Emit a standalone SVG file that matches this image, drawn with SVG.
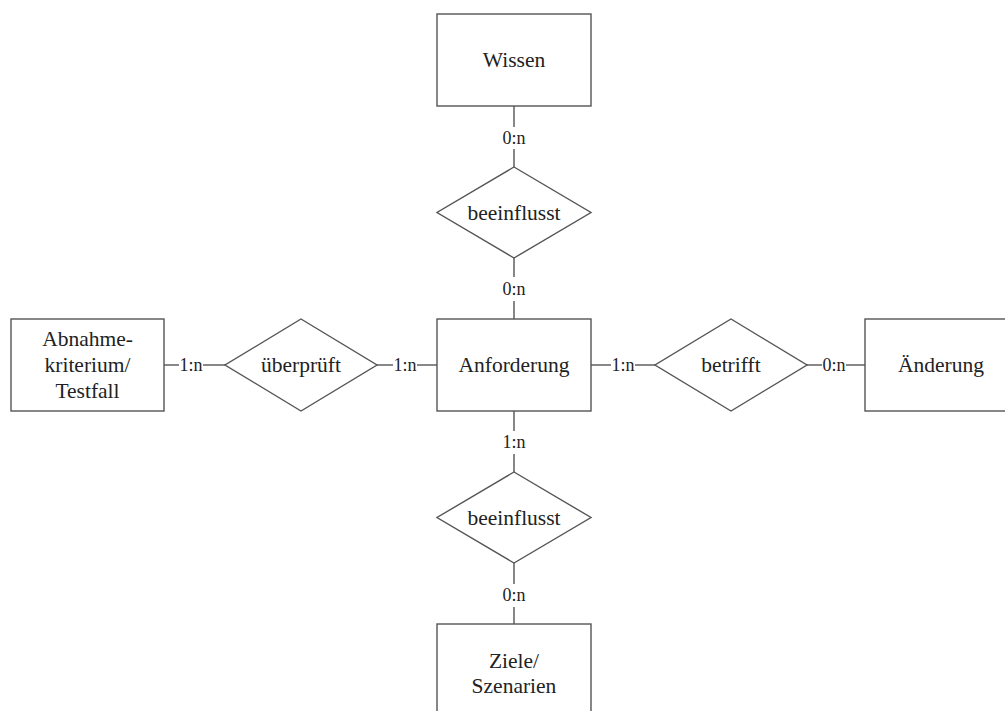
<svg xmlns="http://www.w3.org/2000/svg" width="1005" height="711" viewBox="0 0 1005 711">
  <style>
    .box { fill: #ffffff; stroke: #555555; stroke-width: 1.4; }
    .rel { fill: #ffffff; stroke: #555555; stroke-width: 1.4; }
    .link { stroke: #555555; stroke-width: 1.4; fill: none; }
    .name { font-family: "Liberation Serif", "Times New Roman", serif; font-size: 21.5px; fill: #222222; text-anchor: middle; }
    .card { font-family: "Liberation Serif", "Times New Roman", serif; font-size: 18px; fill: #222222; text-anchor: middle; }
  </style>
  <rect width="1005" height="711" fill="#ffffff"/>

  <!-- connectors with cardinalities -->
  <g id="connectors">
    <!-- Wissen - beeinflusst (top) -->
    <line class="link" x1="514" y1="106" x2="514" y2="127"/>
    <text class="card" x="514" y="144">0:n</text>
    <line class="link" x1="514" y1="149" x2="514" y2="167"/>
    <!-- beeinflusst (top) - Anforderung -->
    <line class="link" x1="514" y1="258" x2="514" y2="277"/>
    <text class="card" x="514" y="295">0:n</text>
    <line class="link" x1="514" y1="301" x2="514" y2="319"/>
    <!-- Anforderung - beeinflusst (bottom) -->
    <line class="link" x1="514" y1="411" x2="514" y2="431"/>
    <text class="card" x="514" y="448">1:n</text>
    <line class="link" x1="514" y1="454" x2="514" y2="472"/>
    <!-- beeinflusst (bottom) - Ziele/Szenarien -->
    <line class="link" x1="514" y1="563" x2="514" y2="584"/>
    <text class="card" x="514" y="601">0:n</text>
    <line class="link" x1="514" y1="607" x2="514" y2="624"/>
    <!-- Abnahmekriterium - überprüft -->
    <line class="link" x1="164" y1="365" x2="179" y2="365"/>
    <text class="card" x="191" y="371">1:n</text>
    <line class="link" x1="203" y1="365" x2="225" y2="365"/>
    <!-- überprüft - Anforderung -->
    <line class="link" x1="377" y1="365" x2="393" y2="365"/>
    <text class="card" x="405" y="371">1:n</text>
    <line class="link" x1="417" y1="365" x2="437" y2="365"/>
    <!-- Anforderung - betrifft -->
    <line class="link" x1="591" y1="365" x2="611" y2="365"/>
    <text class="card" x="623" y="371">1:n</text>
    <line class="link" x1="635" y1="365" x2="655" y2="365"/>
    <!-- betrifft - Änderung -->
    <line class="link" x1="807" y1="365" x2="822" y2="365"/>
    <text class="card" x="834" y="371">0:n</text>
    <line class="link" x1="846" y1="365" x2="865" y2="365"/>
  </g>

  <g id="wissen">
    <rect class="box" x="437" y="14" width="154" height="92"/>
    <text class="name" x="514" y="67">Wissen</text>
  </g>

  <g id="beeinflusst-top">
    <polygon class="rel" points="514,167 591,212.5 514,258 437,212.5"/>
    <text class="name" x="514" y="220">beeinflusst</text>
  </g>

  <g id="anforderung">
    <rect class="box" x="437" y="319" width="154" height="92"/>
    <text class="name" x="514" y="372">Anforderung</text>
  </g>

  <g id="abnahmekriterium">
    <rect class="box" x="11" y="319" width="153" height="92"/>
    <text class="name" x="87.5" y="346">Abnahme-</text>
    <text class="name" x="87.5" y="372">kriterium/</text>
    <text class="name" x="87.5" y="398">Testfall</text>
  </g>

  <g id="ueberprueft">
    <polygon class="rel" points="301,319 377,365 301,411 225,365"/>
    <text class="name" x="301" y="372">überprüft</text>
  </g>

  <g id="betrifft">
    <polygon class="rel" points="731,319 807,365 731,411 655,365"/>
    <text class="name" x="731" y="372">betrifft</text>
  </g>

  <g id="aenderung">
    <rect class="box" x="865" y="319" width="154" height="92"/>
    <text class="name" x="941" y="372">Änderung</text>
  </g>

  <g id="beeinflusst-bottom">
    <polygon class="rel" points="514,472 591,517.5 514,563 437,517.5"/>
    <text class="name" x="514" y="525">beeinflusst</text>
  </g>

  <g id="ziele">
    <rect class="box" x="437" y="624" width="154" height="92"/>
    <text class="name" x="514" y="668">Ziele/</text>
    <text class="name" x="514" y="693">Szenarien</text>
  </g>
</svg>
